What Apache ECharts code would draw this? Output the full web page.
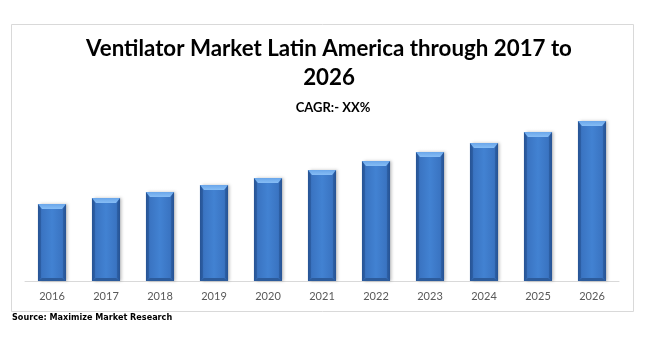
<!DOCTYPE html>
<html>
<head>
<meta charset="utf-8">
<script src="https://cdn.jsdelivr.net/npm/echarts@6/dist/echarts.min.js"></script>
<style>
html,body{margin:0;padding:0;background:#fff;}
#c{width:651px;height:337px;}
</style>
</head>
<body>
<div id="c"></div>
<script>
const titleLines = ['Ventilator Market Latin America through 2017 to', '2026'];
const subtitle = 'CAGR:- XX%';
const sourceText = 'Source: Maximize Market Research';
const years = ['2016','2017','2018','2019','2020','2021','2022','2023','2024','2025','2026'];
const marketValues = [77, 83, 89, 96, 103, 111, 120, 129, 138, 149, 160];

const chart = echarts.init(document.getElementById('c'), null, {renderer: 'canvas'});

function renderBar(params, api) {
  const idx = api.value(0);
  const top = api.coord([idx, api.value(1)]);
  const base = api.coord([idx, 0]);
  const w = api.size([1, 0])[0] * 0.52;
  const x = top[0] - w / 2;
  const y = top[1];
  const h = base[1] - top[1];
  const b = 4;
  return {
    type: 'group',
    children: [
      {
        type: 'rect',
        shape: {x: x, y: y, width: w, height: h},
        style: {
          fill: new echarts.graphic.LinearGradient(0, 0, 1, 0, [
            {offset: 0, color: '#2c5c9e'},
            {offset: 0.14, color: '#3a74c2'},
            {offset: 0.5, color: '#4282d2'},
            {offset: 0.86, color: '#3a74c2'},
            {offset: 1, color: '#2c5c9e'}
          ]),
          shadowColor: 'rgba(0,0,0,0.25)',
          shadowBlur: 3,
          shadowOffsetX: 2,
          shadowOffsetY: 0
        }
      },
      {
        type: 'polygon',
        shape: {points: [[x, y], [x + w, y], [x + w - b, y + b + 1], [x + b, y + b + 1]]},
        style: {
          fill: new echarts.graphic.LinearGradient(0, 0, 0, 1, [
            {offset: 0, color: '#6aa6ea'},
            {offset: 1, color: '#86bdf5'}
          ])
        }
      },
      {
        type: 'polygon',
        shape: {points: [[x, y + h], [x + w, y + h], [x + w - b, y + h - 3], [x + b, y + h - 3]]},
        style: {fill: '#2d5c9c'}
      },
      {
        type: 'polygon',
        shape: {points: [[x, y], [x + b - 1, y + b + 1], [x + b - 1, y + h - 3], [x, y + h]]},
        style: {fill: 'rgba(30,70,130,0.35)'}
      },
      {
        type: 'polygon',
        shape: {points: [[x + w, y], [x + w - b + 1, y + b + 1], [x + w - b + 1, y + h - 3], [x + w, y + h]]},
        style: {fill: 'rgba(30,70,130,0.35)'}
      }
    ]
  };
}

chart.setOption({
  animation: false,
  backgroundColor: '#ffffff',
  title: [
    {
      text: titleLines.join('\n'),
      left: 329, top: 34, textAlign: 'center', padding: 0,
      textStyle: {fontFamily: 'Lato', fontWeight: 'bold', fontSize: 22.3, color: '#000', lineHeight: 29}
    },
    {
      text: subtitle,
      left: 333, top: 101, textAlign: 'center', padding: 0,
      textStyle: {fontFamily: 'Lato', fontWeight: 'bold', fontSize: 13, color: '#000', lineHeight: 14}
    },
    {
      text: sourceText,
      left: 12, top: 312, padding: 0,
      textStyle: {fontFamily: 'DejaVu Sans Condensed', fontWeight: 'bold', fontSize: 9, color: '#000', lineHeight: 12}
    }
  ],
  graphic: [
    {
      type: 'rect',
      shape: {x: 11.5, y: 24.5, width: 622, height: 287},
      style: {fill: 'none', stroke: '#d9d9d9', lineWidth: 1},
      silent: true
    }
  ],
  grid: {left: 25, right: 32, top: 81, bottom: 56},
  xAxis: {
    type: 'category',
    data: years,
    axisLine: {lineStyle: {color: '#d9d9d9', width: 1}},
    axisTick: {show: false},
    axisLabel: {color: '#595959', fontFamily: 'Lato', fontSize: 11, margin: 10}
  },
  yAxis: {
    type: 'value', min: 0, max: 200, show: false, splitLine: {show: false}
  },
  series: [{
    type: 'custom',
    renderItem: renderBar,
    encode: {x: 0, y: 1},
    data: marketValues.map((v, i) => [i, v])
  }]
});
</script>
</body>
</html>
